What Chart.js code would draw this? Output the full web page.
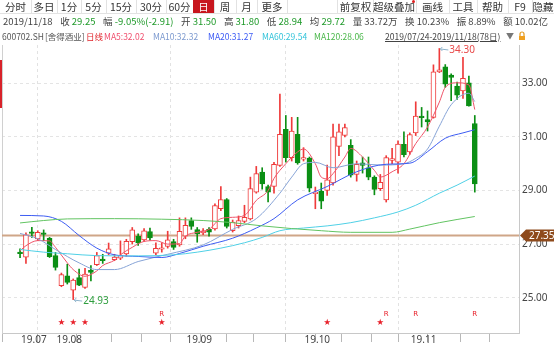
<!DOCTYPE html>
<html lang="zh">
<head>
<meta charset="UTF-8">
<title>舍得酒业 日线</title>
<script src="https://cdn.jsdelivr.net/npm/chart.js"></script>
<style>
  body { margin: 0; background: #fff; font-family: "Noto Sans CJK SC", sans-serif; }
  #wrap { position: relative; width: 554px; height: 347px; overflow: hidden; }
  #kline { position: absolute; left: 0; top: 0; }
  .row { position: absolute; left: 0; width: 554px; white-space: nowrap; }
  .row span { position: absolute; top: 0; }
  #r1 { top: 0; height: 13px; border-bottom: 1px solid #e2e2e2; font-size: 10.5px; line-height: 13px; color: #333; }
  #r1 span { text-align: center; border-right: 1px solid #e2e2e2; height: 13px; }
  #r1 .sel { background: #c8161e; color: #fff; }
  #r2 { top: 15px; left: 3px; width: 545px; height: 13px; font-size: 9.5px; line-height: 13px; color: #444;
        display: flex; justify-content: space-between; }
  #r2 span { position: static; }
  #r3 { top: 30px; height: 12px; font-size: 8.5px; line-height: 12px; color: #555; }
  .g { color: #1f9a2a; }
  #mark { position: absolute; left: 0; top: 60px; width: 2px; height: 48px; background: #d8222a; }
</style>
</head>
<body>
<div id="wrap">
  <canvas id="kline" width="554" height="347"></canvas>
  <div class="row" id="r1"></div>
  <div class="row" id="r2">
    <span>2019/11/18</span>
    <span>收 <i class="g" style="font-style:normal">29.25</i></span>
    <span>幅 <i class="g" style="font-style:normal">-9.05%(-2.91)</i></span>
    <span>开 <i class="g" style="font-style:normal">31.50</i></span>
    <span>高 <i class="g" style="font-style:normal">31.80</i></span>
    <span>低 <i class="g" style="font-style:normal">28.94</i></span>
    <span>均 <i class="g" style="font-style:normal">29.72</i></span>
    <span>量 33.72万</span>
    <span>换 10.23%</span>
    <span>振 8.89%</span>
    <span>额 10.02亿</span>
  </div>
  <div class="row" id="r3">
    <span style="left:2px">600702.SH</span>
    <span style="left:45px">[舍得酒业]</span>
    <span style="left:86px; color:#e0252b">日线</span>
    <span style="left:104px; color:#f0506e">MA5:32.02</span>
    <span style="left:153px; color:#7d9acf">MA10:32.32</span>
    <span style="left:208px; color:#3c5bf5">MA20:31.27</span>
    <span style="left:262px; color:#35c4da">MA60:29.54</span>
    <span style="left:314px; color:#4bb84b">MA120:28.06</span>
    <span style="left:385px; color:#444; text-decoration:underline">2019/07/24-2019/11/18(78日)</span>
    <span style="left:506px; color:#777; font-size:8px">▼</span>
    <span style="left:518px; top:1px"><svg width="8" height="10"><path d="M2 5V3a2 2 0 0 1 4 0v2" fill="none" stroke="#e39a1e" stroke-width="1.2"/><rect x="1" y="5" width="6" height="4" fill="#f0a020"/></svg></span>
  </div>
  <div id="mark"></div>
</div>
<script>
// toolbar buttons
const leftButtons = ['分时', '多日', '1分', '5分', '15分', '30分', '60分', '日', '周', '月', '更多'];
const rightButtons = ['前复权', '超级叠加', '画线', '工具', '帮助', 'F9', '隐藏'];

// daily candles 2019/07/24 - 2019/11/18 (78 trading days)
const opens = [
  26.70, 26.51, 27.46, 27.19, 27.42, 27.22, 26.57, 25.45, 25.82, 25.28,
  25.75, 25.38, 26.02, 26.23, 26.44, 26.66, 26.42, 26.48, 26.63, 27.09,
  27.29, 27.16, 27.47, 26.66, 26.81, 26.91, 27.09, 26.97, 27.30, 27.88,
  27.54, 27.42, 27.55, 27.57, 28.32, 28.66, 27.50, 27.69, 27.85, 27.94,
  28.94, 29.69, 29.15, 29.15, 29.94, 31.28, 30.23, 31.10, 30.17, 30.21,
  28.88, 28.97, 29.00, 29.28, 30.65, 31.06, 30.69, 29.60, 30.03, 29.85,
  29.50, 29.07, 28.65, 30.12, 30.06, 30.72, 30.44, 31.15, 31.78, 31.65,
  31.73, 33.43, 33.62, 33.31, 32.90, 32.72, 33.02, 31.50
];
const closes = [
  26.64, 27.35, 27.40, 27.44, 27.36, 26.53, 26.13, 25.86, 25.57, 25.66,
  25.47, 25.88, 25.94, 26.57, 26.38, 26.82, 26.52, 26.58, 27.10, 27.53,
  27.04, 27.50, 27.23, 26.84, 26.86, 27.16, 26.88, 27.48, 27.70, 27.66,
  27.38, 27.50, 27.45, 28.44, 28.66, 27.66, 27.82, 27.88, 28.00, 29.07,
  29.63, 29.25, 28.94, 29.98, 31.10, 30.23, 31.22, 30.03, 30.23, 29.09,
  28.94, 28.60, 29.40, 31.00, 31.19, 31.35, 29.57, 29.98, 29.94, 29.50,
  29.04, 29.31, 30.23, 30.19, 30.73, 30.34, 31.09, 31.78, 31.72, 31.56,
  33.43, 33.50, 32.97, 33.22, 32.56, 33.19, 32.16, 29.25
];
const highs = [
  26.82, 27.42, 27.63, 27.50, 27.53, 27.25, 26.69, 25.92, 26.25, 25.70,
  26.07, 26.10, 26.20, 26.69, 26.62, 27.04, 26.62, 27.12, 27.18, 27.62,
  27.38, 27.58, 27.60, 27.05, 27.05, 27.48, 27.18, 27.98, 27.98, 27.98,
  27.62, 27.58, 27.62, 28.50, 29.15, 28.70, 27.90, 28.05, 28.45, 29.50,
  29.90, 29.85, 29.20, 30.05, 32.60, 31.80, 31.73, 31.73, 30.60, 30.25,
  29.13, 29.28, 29.95, 31.48, 31.48, 31.48, 30.90, 30.10, 30.25, 30.25,
  29.55, 29.60, 30.30, 30.57, 30.85, 31.19, 31.15, 32.31, 32.10, 31.97,
  33.69, 34.30, 33.70, 33.35, 33.05, 33.97, 33.27, 31.80
];
const lows = [
  26.49, 26.28, 27.25, 27.13, 27.13, 26.50, 26.03, 25.41, 25.51, 24.93,
  25.45, 25.35, 25.63, 26.20, 26.28, 26.60, 26.38, 26.42, 26.55, 27.00,
  26.95, 27.10, 27.15, 26.60, 26.70, 26.85, 26.80, 26.92, 27.20, 27.55,
  27.07, 27.35, 27.30, 27.52, 28.25, 27.60, 27.45, 27.60, 27.80, 27.90,
  28.90, 29.05, 28.57, 28.90, 29.90, 30.06, 30.10, 29.98, 30.10, 28.95,
  28.32, 28.32, 28.82, 29.20, 30.30, 31.00, 29.50, 29.35, 29.65, 29.40,
  28.84, 29.00, 28.57, 30.00, 29.65, 30.25, 30.35, 31.05, 31.37, 31.22,
  31.70, 33.40, 32.85, 32.35, 32.40, 32.44, 32.15, 28.94
];

// moving averages: [day index, value]
const ma5 = [[0,26.75],[1,26.94],[3,27.13],[5,27.12],[6,26.88],[8,26.3],[9,26.05],[11,25.8],[13,26.0],[14,26.2],
  [16,26.4],[17,26.6],[19,26.88],[21,27.1],[23,27.13],[25,27.0],[27,27.02],[28,27.3],[30,27.44],[32,27.55],
  [34,27.95],[36,28.0],[38,28.07],[40,28.63],[42,29.0],[43,29.45],[45,30.0],[47,30.44],[48,30.55],[50,30.0],
  [51,29.5],[52,29.44],[53,29.63],[55,30.25],[56,30.57],[58,30.25],[60,29.75],[61,29.5],[63,29.7],[65,30.0],
  [67,30.75],[69,31.37],[71,32.3],[72,32.85],[74,33.02],[76,32.94],[77,32.02]];
const ma10 = [[0,27.4],[3,27.2],[6,26.8],[10,26.3],[13,26.05],[16,26.05],[20,26.35],[25,26.62],[31,26.97],[36,27.55],
  [40,27.95],[44,28.9],[46,29.5],[48,30.0],[50,30.05],[53,29.85],[57,30.0],[61,29.95],[65,30.0],[67,30.2],
  [69,30.55],[71,31.4],[73,32.2],[76,32.63],[77,32.32]];
const ma20 = [[0,28.07],[4,28.05],[7,27.85],[10,27.32],[13,26.85],[16,26.6],[20,26.54],[24,26.5],[27,26.65],[31,26.92],
  [36,27.22],[40,27.6],[43,27.95],[47,28.65],[52,29.15],[57,29.7],[62,29.98],[66,30.02],[69,30.45],[72,30.95],
  [75,31.15],[77,31.27]];
const ma60 = [[0,26.8],[4,26.7],[8,26.64],[13,26.57],[20,26.56],[26,26.6],[30,26.7],[34,26.85],[38,27.05],[41,27.25],
  [44,27.5],[48,27.6],[52,27.68],[56,27.8],[60,27.98],[64,28.2],[67,28.45],[71,28.9],[74,29.2],[77,29.54]];
const ma120 = [[0,27.79],[4,27.88],[8,27.94],[16,27.95],[24,27.93],[31,27.88],[36,27.8],[41,27.68],[46,27.58],[51,27.5],
  [56,27.44],[63,27.44],[66,27.56],[71,27.8],[77,28.03]];

const costLine = 27.35;
const priceTicks = [25, 27, 29, 31, 33];
const monthLabels = {0: '19.07', 6: '19.08', 28: '19.09', 48: '19.10', 66: '19.11'};
const weekTicks = [0, 6, 13, 18, 23, 28, 33, 37, 42, 48, 52, 57, 62, 66, 72, 77];
const starDays = [7, 9, 11, 24, 52, 61];
const rDays = [24, 62, 67, 77];

// toolbar
(function () {
  const r1 = document.getElementById('r1');
  const lx = [0, 31, 57, 81, 106, 136, 166, 193, 214, 236, 257];
  const lw = [31, 26, 24, 25, 30, 30, 27, 21, 22, 21, 30];
  leftButtons.forEach((t, i) => {
    const s = document.createElement('span');
    s.textContent = t;
    s.style.left = lx[i] + 'px';
    s.style.width = lw[i] + 'px';
    if (t === '日') s.className = 'sel';
    r1.appendChild(s);
  });
  const rx = [337, 372, 416, 449, 477, 508, 532];
  const rw = [35, 44, 33, 28, 31, 24, 22];
  rightButtons.forEach((t, i) => {
    const s = document.createElement('span');
    s.textContent = t;
    s.style.left = rx[i] + 'px';
    s.style.width = rw[i] + 'px';
    s.style.borderLeft = i === 0 ? '1px solid #e2e2e2' : '';
    if (t === '超级叠加') s.innerHTML = t + '<i style="position:absolute;right:1px;top:0;width:3px;height:3px;border-radius:2px;background:#e02020"></i>';
    r1.appendChild(s);
  });
})();

const RED = '#ef3b3b', GREEN = '#0b8f14';
const isUp = i => closes[i] >= opens[i];
const days = closes.map((_, i) => i);
const X_MIN = -0.32, X_MAX = 81.75;

const overlay = {
  id: 'overlay',
  beforeDatasetsDraw(chart) {
    const {ctx, chartArea: a, scales: {y}} = chart;
    const yy = Math.round(y.getPixelForValue(costLine)) + 0.5;
    ctx.save();
    ctx.strokeStyle = '#cfa688';
    ctx.lineWidth = 2;
    ctx.beginPath();
    ctx.moveTo(a.left, yy);
    ctx.lineTo(a.right, yy);
    ctx.stroke();
    ctx.restore();
  },
  afterDatasetsDraw(chart) {
    const {ctx, chartArea: a, scales: {x, y}} = chart;
    ctx.save();
    ctx.font = '10px "Noto Sans", sans-serif';
    ctx.textBaseline = 'middle';
    // highest / lowest marks
    const hi = highs.indexOf(Math.max(...highs));
    const lo = lows.indexOf(Math.min(...lows));
    [[hi, highs[hi], '#e84a4a'], [lo, lows[lo], '#2e9e3e']].forEach(([i, v, c]) => {
      const px = x.getPixelForValue(i), py = y.getPixelForValue(v);
      ctx.strokeStyle = '#8fb4cc';
      ctx.lineWidth = 1;
      ctx.beginPath();
      ctx.moveTo(px + 1, py + 0.5);
      ctx.lineTo(px + 9, py + 1.5);
      ctx.moveTo(px + 1, py + 0.5);
      ctx.lineTo(px + 3, py - 1.5);
      ctx.moveTo(px + 1, py + 0.5);
      ctx.lineTo(px + 3, py + 2.5);
      ctx.stroke();
      ctx.fillStyle = c;
      ctx.fillText(v.toFixed(2), px + 10, py + 2);
    });
    // event markers
    ctx.fillStyle = '#e8202a';
    ctx.textAlign = 'center';
    ctx.font = '7px "Noto Sans CJK SC", sans-serif';
    starDays.forEach(i => ctx.fillText('★', x.getPixelForValue(i), a.bottom - 12));
    ctx.font = '7px "DejaVu Sans", sans-serif';
    rDays.forEach(i => ctx.fillText('R', x.getPixelForValue(i), a.bottom - 19));
    ctx.restore();
  },
  afterDraw(chart) {
    const {ctx, chartArea: a, scales: {y}} = chart;
    const yy = Math.round(y.getPixelForValue(costLine)) + 0.5;
    ctx.save();
    ctx.fillStyle = '#8e4a1c';
    ctx.beginPath();
    ctx.moveTo(a.right + 1, yy);
    ctx.lineTo(a.right + 7, yy - 6);
    ctx.lineTo(554, yy - 6);
    ctx.lineTo(554, yy + 6);
    ctx.lineTo(a.right + 7, yy + 6);
    ctx.closePath();
    ctx.fill();
    ctx.fillStyle = '#fff';
    ctx.font = '10px "Noto Sans", sans-serif';
    ctx.textBaseline = 'middle';
    ctx.fillText(costLine.toFixed(2), a.right + 10, yy + 0.5);
    ctx.restore();
  }
};

const maLine = (pts, color) => ({
  type: 'line',
  data: pts.map(([d, v]) => ({x: d, y: v})),
  borderColor: color,
  borderWidth: 1,
  pointRadius: 0,
  cubicInterpolationMode: 'monotone',
  order: 0
});

new Chart(document.getElementById('kline'), {
  data: {
    datasets: [
      {
        type: 'bar',
        data: days.map(i => ({x: i, y: [lows[i], highs[i]]})),
        backgroundColor: c => isUp(c.dataIndex) ? RED : GREEN,
        barThickness: 1,
        grouped: false,
        order: 3
      },
      {
        type: 'bar',
        data: days.map(i => ({x: i, y: [opens[i], closes[i]]})),
        backgroundColor: c => isUp(c.dataIndex) ? '#fff' : GREEN,
        borderColor: c => isUp(c.dataIndex) ? RED : GREEN,
        borderWidth: 1,
        borderSkipped: false,
        barThickness: 5,
        grouped: false,
        order: 2
      },
      maLine(ma120, '#62c462'),
      maLine(ma60, '#4fd0e6'),
      maLine(ma20, '#3d5cf2'),
      maLine(ma10, '#86a3d6'),
      maLine(ma5, '#ef5368')
    ]
  },
  options: {
    responsive: false,
    animation: false,
    layout: {padding: {top: 45}},
    plugins: {legend: {display: false}, tooltip: {enabled: false}},
    scales: {
      x: {
        type: 'linear', min: X_MIN, max: X_MAX,
        afterBuildTicks: s => { s.ticks = weekTicks.map(v => ({value: v})); },
        afterFit: s => { s.height = 14; },
        ticks: {
          callback: v => monthLabels[v] || '',
          autoSkip: false, maxRotation: 0, align: 'start', labelOffset: 1,
          padding: -8, color: '#444', font: {size: 10, family: '"Noto Sans", sans-serif'}
        },
        grid: {
          color: c => (c.tick && monthLabels[c.tick.value] && c.tick.value > 0) ? '#e2e2e2' : 'rgba(0,0,0,0)',
          tickColor: '#b8b8b8', tickLength: 9
        },
        border: {color: '#c8c8c8', dash: [3, 3]}
      },
      y: {
        position: 'right', min: 23.683, max: 34.43,
        afterBuildTicks: s => { s.ticks = priceTicks.map(v => ({value: v})); },
        afterFit: s => { s.width = 35; },
        ticks: {callback: v => v.toFixed(2), padding: 3, color: '#444', font: {size: 10, family: '"Noto Sans", sans-serif'}},
        grid: {color: '#e4e4e4', drawTicks: false},
        border: {color: '#c8c8c8', dash: [3, 3]}
      },
      yl: {
        position: 'left', min: 23.683, max: 34.43,
        afterFit: s => { s.width = 2; },
        ticks: {display: false},
        grid: {display: false},
        border: {color: '#d0d0d0'}
      }
    }
  },
  plugins: [overlay]
});
</script>
</body>
</html>
